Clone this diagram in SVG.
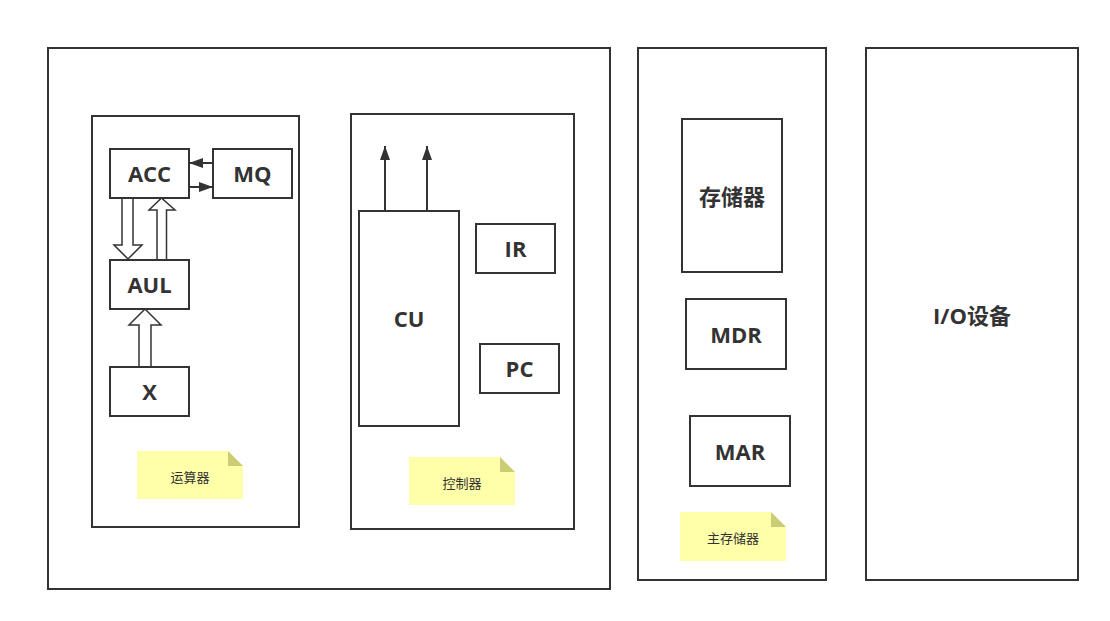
<svg xmlns="http://www.w3.org/2000/svg" width="1110" height="621" viewBox="0 0 1110 621">
<defs>
<style>
.box{fill:#fff;stroke:#333;stroke-width:2}
.lbl{font-family:"Open Sans","Noto Sans CJK SC",sans-serif;font-weight:bold;font-size:22px;fill:#333;text-anchor:middle;dominant-baseline:central}
.note{fill:#ffffaa}
.fold{fill:#cccc77}
.nt{font-family:"Noto Sans CJK SC",sans-serif;font-size:13px;fill:#333;text-anchor:middle;dominant-baseline:central}
.line{stroke:#333;stroke-width:2;fill:none}
.hollow{fill:#fff;stroke:#333;stroke-width:1.5}
</style>
<marker id="ah" markerWidth="14" markerHeight="10" refX="14" refY="5" orient="auto" markerUnits="userSpaceOnUse">
<path d="M0,0 L14,5 L0,10 Z" fill="#333"/>
</marker>
</defs>
<rect width="1110" height="621" fill="#fff"/>
<g id="cpu"><rect class="box" x="48" y="48" width="562" height="541"/></g>
<g id="alu-group"><rect class="box" x="92" y="116" width="207" height="411"/></g>
<g id="ctrl-group"><rect class="box" x="351" y="114" width="223" height="415"/></g>
<g id="mem-group"><rect class="box" x="638" y="48" width="188" height="532"/></g>
<g id="io"><rect class="box" x="866" y="48" width="212" height="532"/><text class="lbl" x="972" y="315">I/O设备</text></g>

<g id="connectors">
<line class="line" x1="213" y1="163" x2="189" y2="163" marker-end="url(#ah)"/>
<line class="line" x1="189" y1="187" x2="213" y2="187" marker-end="url(#ah)"/>
<path class="hollow" d="M122,198 L122,245 L114,245 L128,259 L142,245 L133,245 L133,198 Z"/>
<path class="hollow" d="M157,260 L157,210 L149,210 L161.5,198 L175,210 L166.5,210 L166.5,260 Z"/>
<path class="hollow" d="M139,367 L139,325 L129,325 L145,309 L161,325 L151,325 L151,367 Z"/>
<line class="line" x1="385" y1="211" x2="385" y2="146" marker-end="url(#ah)"/>
<line class="line" x1="427" y1="211" x2="427" y2="146" marker-end="url(#ah)"/>
</g>

<g id="acc"><rect class="box" x="110" y="149" width="79" height="49"/><text class="lbl" x="149.5" y="173">ACC</text></g>
<g id="mq"><rect class="box" x="213" y="149" width="79" height="49"/><text class="lbl" x="252.5" y="173">MQ</text></g>
<g id="aul"><rect class="box" x="110" y="260" width="79" height="49"/><text class="lbl" x="149.5" y="284">AUL</text></g>
<g id="x"><rect class="box" x="110" y="367" width="79" height="49"/><text class="lbl" x="149.5" y="391">X</text></g>
<g id="note-alu"><path class="note" d="M137,451 H228 L243,466 V499 H137 Z"/><path class="fold" d="M228,451 L243,466 H228 Z"/><text class="nt" x="190" y="476">运算器</text></g>

<g id="cu"><rect class="box" x="359" y="211" width="100" height="215"/><text class="lbl" x="409" y="318">CU</text></g>
<g id="ir"><rect class="box" x="476" y="224" width="79" height="49"/><text class="lbl" x="515.5" y="248">IR</text></g>
<g id="pc"><rect class="box" x="480" y="344" width="79" height="49"/><text class="lbl" x="519.5" y="368">PC</text></g>
<g id="note-ctrl"><path class="note" d="M409,457 H500 L515,472 V505 H409 Z"/><path class="fold" d="M500,457 L515,472 H500 Z"/><text class="nt" x="462" y="482">控制器</text></g>

<g id="storage"><rect class="box" x="682" y="119" width="100" height="153"/><text class="lbl" x="732" y="196">存储器</text></g>
<g id="mdr"><rect class="box" x="686" y="299" width="100" height="70"/><text class="lbl" x="736" y="334">MDR</text></g>
<g id="mar"><rect class="box" x="690" y="416" width="100" height="70"/><text class="lbl" x="740" y="451">MAR</text></g>
<g id="note-mem"><path class="note" d="M680,512 H771 L786,527 V561 H680 Z"/><path class="fold" d="M771,512 L786,527 H771 Z"/><text class="nt" x="733" y="537">主存储器</text></g>
</svg>
